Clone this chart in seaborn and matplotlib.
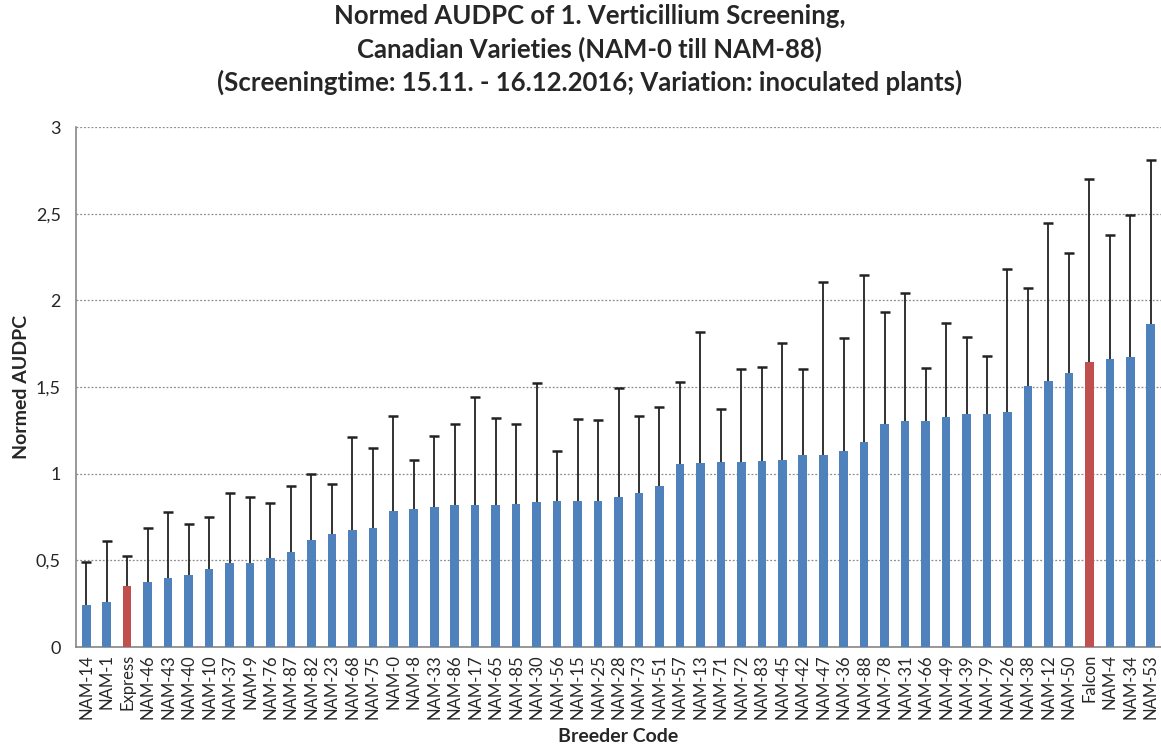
import matplotlib
matplotlib.use("Agg")
import matplotlib.pyplot as plt
import seaborn as sns
import numpy as np
import pandas as pd

categories = ["NAM-14", "NAM-1", "Express", "NAM-46", "NAM-43", "NAM-40", "NAM-10", "NAM-37",
              "NAM-9", "NAM-76", "NAM-87", "NAM-82", "NAM-23", "NAM-68", "NAM-75", "NAM-0",
              "NAM-8", "NAM-33", "NAM-86", "NAM-17", "NAM-65", "NAM-85", "NAM-30", "NAM-56",
              "NAM-15", "NAM-25", "NAM-28", "NAM-73", "NAM-51", "NAM-57", "NAM-13", "NAM-71",
              "NAM-72", "NAM-83", "NAM-45", "NAM-42", "NAM-47", "NAM-36", "NAM-88", "NAM-78",
              "NAM-31", "NAM-66", "NAM-49", "NAM-39", "NAM-79", "NAM-26", "NAM-38", "NAM-12",
              "NAM-50", "Falcon", "NAM-4", "NAM-34", "NAM-53"]

means = [0.244, 0.258, 0.35, 0.373, 0.396, 0.413, 0.452, 0.485, 0.485, 0.515, 0.548, 0.619,
         0.652, 0.675, 0.685, 0.787, 0.796, 0.81, 0.819, 0.819, 0.819, 0.827, 0.835, 0.842,
         0.842, 0.842, 0.865, 0.89, 0.931, 1.058, 1.062, 1.065, 1.065, 1.073, 1.081, 1.105,
         1.105, 1.13, 1.185, 1.288, 1.302, 1.304, 1.327, 1.345, 1.345, 1.353, 1.503, 1.536,
         1.583, 1.647, 1.663, 1.671, 1.862]

upper = [0.49, 0.61, 0.525, 0.685, 0.779, 0.708, 0.75, 0.888, 0.863, 0.831, 0.927, 0.996,
         0.94, 1.21, 1.146, 1.331, 1.081, 1.215, 1.285, 1.442, 1.319, 1.288, 1.525, 1.131,
         1.313, 1.31, 1.496, 1.331, 1.383, 1.531, 1.815, 1.375, 1.602, 1.613, 1.754, 1.606,
         2.104, 1.78, 2.145, 1.932, 2.044, 1.612, 1.872, 1.79, 1.679, 2.178, 2.071, 2.444,
         2.272, 2.698, 2.379, 2.495, 2.811]

check_varieties = ["Express", "Falcon"]

title_text = ("Normed AUDPC of 1. Verticillium Screening,\n"
              "Canadian Varieties (NAM-0 till NAM-88)\n"
              "(Screeningtime: 15.11. - 16.12.2016; Variation: inoculated plants)")
ylabel_text = "Normed AUDPC"
xlabel_text = "Breeder Code"
yticks = [0, 0.5, 1, 1.5, 2, 2.5, 3]
ytick_labels = ["0", "0,5", "1", "1,5", "2", "2,5", "3"]

BLUE = "#4F81BD"
RED = "#C0504D"

sns.set_style("white")
plt.rcParams["font.family"] = ["Lato", "DejaVu Sans"]

df = pd.DataFrame({"code": categories, "value": means, "upper": upper})
palette = {c: (RED if c in check_varieties else BLUE) for c in categories}

fig = plt.figure(figsize=(11.61, 7.44), dpi=100)
ax = fig.add_axes([76 / 1161, 97 / 744, 1085 / 1161, 520 / 744])

sns.barplot(data=df, x="code", y="value", hue="code", palette=palette, legend=False,
            width=0.42, errorbar=None, ax=ax, saturation=1, edgecolor="none", zorder=3)

pos = np.arange(len(categories))
ax.vlines(pos, means, upper, color="#222222", linewidth=1.3, zorder=4)
ax.scatter(pos, upper, marker="_", s=55, color="#222222", linewidths=1.8, zorder=4)

ax.set_ylim(0, 3)
ax.set_xlim(-0.5, len(categories) - 0.5)
ax.set_yticks(yticks)
ax.set_yticklabels(ytick_labels, fontsize=13)
ax.yaxis.grid(True, linestyle=(0, (1.5, 1.5)), color="#8C8C8C", linewidth=0.9)
ax.set_axisbelow(True)

ax.set_xticks(pos)
ax.set_xticklabels(categories, rotation=90, fontsize=12)
ax.set_xticks(np.arange(-0.5, len(categories), 1), minor=True)
ax.tick_params(axis="x", which="major", length=0, pad=5)
ax.tick_params(axis="x", which="minor", length=5, color="#868686", width=1)
ax.tick_params(axis="y", which="major", length=5, color="#868686", width=1, pad=6)

for s in ["top", "right"]:
    ax.spines[s].set_visible(False)
for s in ["left", "bottom"]:
    ax.spines[s].set_color("#868686")
    ax.spines[s].set_linewidth(1.2)

ax.set_xlabel(xlabel_text, fontsize=14, fontweight="bold", labelpad=7)
ax.set_ylabel(ylabel_text, fontsize=14, fontweight="bold", labelpad=4)
fig.text(0.508, 0.995, title_text, ha="center", va="top", fontsize=18.5,
         fontweight="bold", linespacing=1.4)

fig.savefig("out.png", dpi=100)
